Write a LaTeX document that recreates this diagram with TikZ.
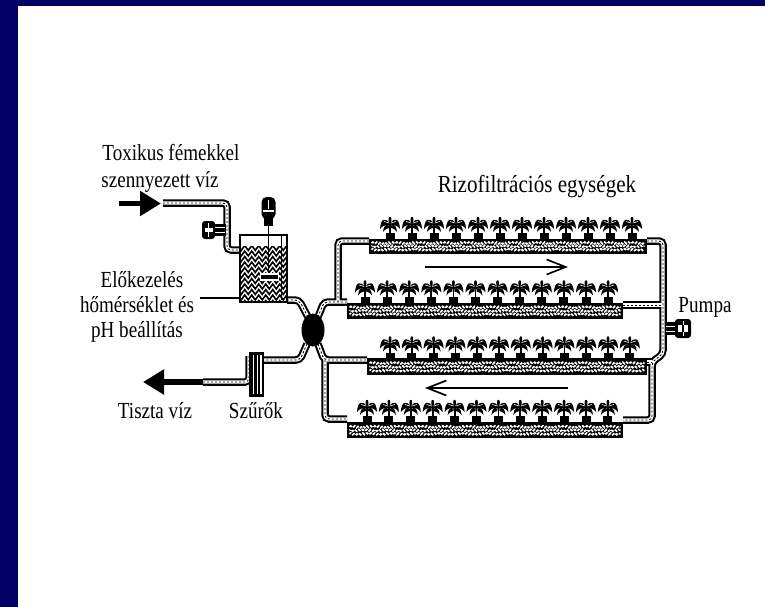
\documentclass[tikz,border=0pt]{standalone}
\usepackage{fontspec}
\usepackage{graphicx}
\setmainfont{Liberation Serif}
\usetikzlibrary{arrows.meta,decorations.pathmorphing,calc}
\definecolor{navy}{HTML}{000066}
\newcommand\sqz[1]{\scalebox{0.83}[1]{#1}}
\newcommand\sqzb[1]{\scalebox{0.86}[1]{#1}}
\tikzset{
  lbl/.style={inner sep=0pt, anchor=base, font=\fontsize{23}{27}\selectfont},
  biglbl/.style={inner sep=0pt, anchor=base, font=\fontsize{24.5}{29}\selectfont},
  pipeout/.style={line width=7.5pt, black, rounded corners=4pt},
  pipein/.style={line width=3.4pt, white, rounded corners=4pt},
  pipedash/.style={line width=0.9pt, black, dash pattern=on 2pt off 2pt, rounded corners=4pt},
  bed/.style={fill=black, inner sep=0pt, outer sep=0pt, minimum height=15pt,
    path picture={
      \foreach \f/\ph in {0.3/0pt,0.52/2pt,0.74/1pt}
        \draw[white, line width=1.7pt, dash pattern=on 3pt off 1.6pt, dash phase=\ph, decorate,
              decoration={snake, amplitude=0.9pt, segment length=4pt}]
          ($(path picture bounding box.north west)!\f!(path picture bounding box.south west)+(2.5,0)$) --
          ($(path picture bounding box.north east)!\f!(path picture bounding box.south east)+(-2.5,0)$);
    }},
  plant/.pic={
    \fill (-4.5,0) rectangle (4.5,-6);
    \draw[line width=1.8pt] (0,-5) -- (0,-15);
    \fill (0,-15) .. controls (-4,-22) and (-9.5,-21) .. (-10,-10) .. controls (-7,-14) and (-3,-15) .. (0,-13) -- cycle;
    \fill (0,-15) .. controls (4,-22) and (9.5,-21) .. (10,-10) .. controls (7,-14) and (3,-15) .. (0,-13) -- cycle;
    \fill (0,-14) .. controls (-5,-25) and (5,-25) .. (0,-14);
    \fill (-1,-13) .. controls (-4,-16) and (-6.5,-13) .. (-7,-7) .. controls (-5,-10) and (-2,-11) .. (-1,-11) -- cycle;
    \fill (1,-13) .. controls (4,-16) and (6.5,-13) .. (7,-7) .. controls (5,-10) and (2,-11) .. (1,-11) -- cycle;
    \draw[white, line width=0.6pt] (-1,-16) -- (-6,-17.5) (1,-16) -- (6,-17.5);
  },
  fatarrow/.style={line width=5.5pt, -{Triangle[length=21pt,width=24pt]}},
  flow/.style={line width=1.7pt, -{Straight Barb[length=19pt,width=15pt,line width=1.7pt]}},
}
\begin{document}
\begin{tikzpicture}[x=1pt,y=-1pt]
\useasboundingbox (0,0) rectangle (765,607);
\fill[white] (0,0) rectangle (765,607);
% frame bands
\fill[navy] (0,0) rectangle (18,607);
\fill[navy] (0,0) rectangle (765,6);

% pipe network: outline, interior, inner dashes
\foreach \st in {pipeout,pipein,pipedash}{
  \draw[\st] (163,203) -- (227,203) -- (227,250) -- (240,250);
  \draw[\st] (287,300) -- (299,300) -- (308,317);
  \draw[\st] (318,317) -- (324,302) -- (347,302);
  \draw[\st] (338,302) -- (338,241) -- (369,241);
  \draw[\st] (307,344) -- (300,360) -- (264,360);
  \draw[\st] (318,344) -- (324,360) -- (367,360);
  \draw[\st] (325,360) -- (325,419) -- (347,419);
  \draw[\st] (647,241) -- (663,241) -- (663,354) -- (652,362) -- (652,420) -- (623,420);
  \draw[\st] (623,305) -- (663,305);
  \draw[\st] (647,362) -- (652,362);
  \draw[\st] (249,356) -- (249,382) -- (203,382);
}

% central valve
\fill (313,330) ellipse [x radius=11.5pt, y radius=16.5pt];
\coordinate (valve) at (313,330);

% filters
\fill (249,352) rectangle (264,397);
\foreach \xx in {253.5,257.5,261}
  \draw[white, line width=1.2pt] (\xx,355) -- (\xx,394);
\coordinate (filter) at (257,375);

% inlet / outlet arrows
\coordinate (inA) at (119,203.5);
\coordinate (inB) at (161,203.5);
\draw[fatarrow] (inA) -- (inB);
\coordinate (outA) at (203,382);
\coordinate (outB) at (143,382);
\draw[fatarrow] (outA) -- (outB);

% dosing pump on the inlet pipe
\fill (214,224) rectangle (226,236);
\draw[white, line width=0.8pt] (215,227.5) -- (225,227.5) (215,232.5) -- (225,232.5);
\fill[rounded corners=3pt] (202,221) rectangle (215,239);
\draw[white, line width=1pt] (208.5,223) -- (208.5,237);
\fill[white] (204.5,228) rectangle (212.5,232);

% pretreatment tank
\begin{scope}
  \clip (240,246) rectangle (287,302);
  \foreach \yy in {248,253.5,...,304}
    \draw[line width=1.6pt, decorate, decoration={zigzag, amplitude=2.4pt, segment length=7pt}] (236,\yy) -- (292,\yy);
\end{scope}
\draw[line width=2pt] (240,235) rectangle (287,302);
\node[inner sep=0pt, minimum width=47pt, minimum height=67pt] (tank) at (263.5,268.5) {};
\draw[line width=1pt] (281,235) -- (281,300);
% stirrer
\fill[rounded corners=5pt] (261.5,197) rectangle (275.5,219);
\fill (264,217) rectangle (273,226);
\draw[white, line width=1.5pt] (263,211) -- (274,211);
\draw[white, line width=0.8pt] (268.5,200) -- (268.5,209);
\draw[line width=1.3pt] (268.5,225) -- (268.5,277);
\fill[white] (260,273) rectangle (279,281);
\fill (261,275) rectangle (278,279);

% pointer line for the pretreatment label
\coordinate (ptr) at (200,298);
\draw[line width=1.3pt] (ptr) -- (tank.west |- ptr);

% rhizofiltration beds
\node[bed, minimum width=278pt, minimum height=15pt] (bedA) at (508,246) {};
\node[bed, minimum width=276pt, minimum height=16pt] (bedB) at (485,310.5) {};
\node[bed, minimum width=280pt, minimum height=17pt] (bedC) at (507,366.5) {};
\node[bed, minimum width=276pt, minimum height=16pt] (bedD) at (485,430) {};

\foreach \i in {0,...,11}{
  \pic at ({390+22*\i},239) {plant};
  \pic at ({365+22.1*\i},302.5) {plant};
  \pic at ({390+21.8*\i},358.5) {plant};
  \pic at ({367+21.9*\i},422) {plant};
}

% flow direction arrows
\coordinate (fa1) at (425,267);
\coordinate (fa2) at (568,267);
\draw[flow] (fa1) -- (fa2);
\coordinate (fb1) at (568,388);
\coordinate (fb2) at (425,388);
\draw[flow] (fb1) -- (fb2);

% circulation pump on the right
\fill (665,322) rectangle (676,335);
\draw[white, line width=0.8pt] (666,326) -- (675,326) (666,331) -- (675,331);
\fill[rounded corners=3pt] (675,319) rectangle (691,338);
\draw[white, line width=1pt] (683,321) -- (683,336);
\fill[white] (678,325) rectangle (688,332);
\fill (682,325) rectangle (684,332);

% labels
\node[lbl] (tox1) at (171,160) {\sqz{Toxikus fémekkel}};
\node[lbl] (tox2) at (160,187) {\sqz{szennyezett víz}};
\node[biglbl] (rizo) at (537,192) {\sqzb{Rizofiltrációs egységek}};
\node[lbl] (elo1) at (142,287) {\sqz{Előkezelés}};
\node[lbl] (elo2) at (137,312) {\sqz{hőmérséklet és}};
\node[lbl] (elo3) at (137,337) {\sqz{pH beállítás}};
\node[lbl] (tiszta) at (155,418) {\sqz{Tiszta víz}};
\node[lbl] (szurok) at (256,418) {\sqz{Szűrők}};
\node[lbl] (pumpa) at (705,312) {\sqz{Pumpa}};
\end{tikzpicture}
\end{document}
